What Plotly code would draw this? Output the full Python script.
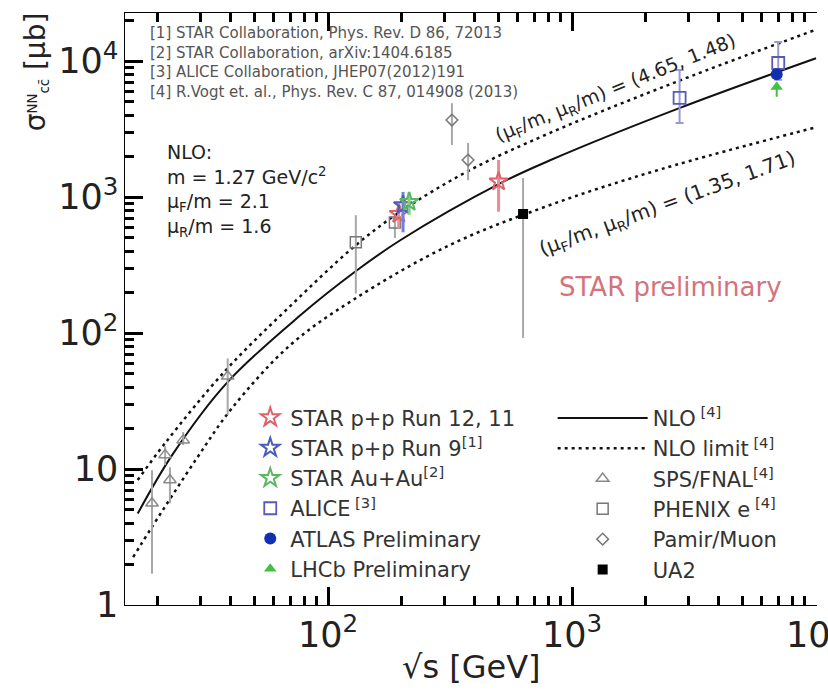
import plotly.graph_objects as go

# ---------------- data ----------------
# NLO central curve
nlo_x = [16.6, 23, 38.5, 77, 129, 197, 507, 813, 2770, 10000]
nlo_y = [4.7, 12.7, 43, 135, 282, 479, 1259, 1862, 4520, 10470]
# NLO limit, upper curve (4.65, 1.48)
up_x = [16.6, 21.5, 38, 68, 129, 197, 375, 813, 2770, 10000]
up_y = [8.3, 15.5, 53, 150, 437, 776, 1550, 2960, 7200, 17000]
# NLO limit, lower curve (1.35, 1.71)
lo_x = [15.9, 19.0, 29.0, 40.4, 70, 126, 316, 813, 2340, 10100]
lo_y = [2.25, 3.75, 12.0, 28, 81.5, 174, 444, 873, 1610, 3270]

star_run12_x = [195, 500]
star_run12_y = [750, 1300]
star_run12_up = [160, 570]
star_run12_dn = [160, 520]

star_run9_x = [203]
star_run9_y = [870]
star_run9_up = [220]
star_run9_dn = [320]

star_auau_x = [215]
star_auau_y = [920]
star_auau_up = [170]
star_auau_dn = [180]

alice_x = [2760, 7000]
alice_y = [5350, 9670]
alice_up = [3250, 4100]
alice_dn = [1850, 2400]

atlas_x = [6900]
atlas_y = [8000]
atlas_up = [700]
atlas_dn = [700]

lhcb_x = [6900]
lhcb_y = [6450]
lhcb_up = [500]
lhcb_dn = [1000]

sps_x = [19.0, 21.5, 22.5, 25.5, 38.8]
sps_y = [5.6, 12.7, 8.3, 16.3, 48]
sps_up = [4.2, 2.0, 2.0, 2.4, 17]
sps_dn = [3.9, 2.0, 2.7, 1.3, 23]

phenix_x = [130, 188]
phenix_y = [465, 650]
phenix_up = [270, 80]
phenix_dn = [270, 150]

pamir_x = [322, 375]
pamir_y = [3680, 1870]
pamir_up = [1220, 630]
pamir_dn = [1270, 540]

ua2_x = [630]
ua2_y = [750]
ua2_up = [630]
ua2_dn = [658]

refs = ["[1] STAR Collaboration, Phys. Rev. D 86, 72013",
        "[2] STAR Collaboration, arXiv:1404.6185",
        "[3] ALICE Collaboration, JHEP07(2012)191",
        "[4] R.Vogt et. al., Phys. Rev. C 87, 014908 (2013)"]

FONT = "DejaVu Sans"
GRAY = "#8a8a8a"
EGRAY = "#a8a8a8"

fig = go.Figure()


def err(up, dn, color, width=0, thick=2):
    return dict(type="data", symmetric=False, array=up, arrayminus=dn,
                color=color, thickness=thick, width=width)


# ---- curves (right legend) ----
fig.add_trace(go.Scatter(x=nlo_x, y=nlo_y, mode="lines", name="NLO<sup> [4]</sup>",
                         line=dict(color="#111111", width=2, shape="spline"),
                         legend="legend2"))
fig.add_trace(go.Scatter(x=up_x, y=up_y, mode="lines", name="NLO limit<sup> [4]</sup>",
                         line=dict(color="#111111", width=2.5, dash="3px,4px", shape="spline"),
                         legend="legend2", legendgroup="lim"))
fig.add_trace(go.Scatter(x=lo_x, y=lo_y, mode="lines", name="NLO limit",
                         line=dict(color="#111111", width=2.5, dash="3px,4px", shape="spline"),
                         legend="legend2", legendgroup="lim", showlegend=False))

# ---- gray reference data (right legend) ----
fig.add_trace(go.Scatter(x=sps_x, y=sps_y, mode="markers", name="SPS/FNAL<sup>[4]</sup>",
                         marker=dict(symbol="triangle-up-open", size=11, color=GRAY,
                                     line=dict(width=1.5, color=GRAY)),
                         error_y=err(sps_up, sps_dn, EGRAY), legend="legend2"))
fig.add_trace(go.Scatter(x=phenix_x, y=phenix_y, mode="markers", name="PHENIX e<sup> [4]</sup>",
                         marker=dict(symbol="square-open", size=11, color="#777777",
                                     line=dict(width=1.5, color="#777777")),
                         error_y=err(phenix_up, phenix_dn, EGRAY), legend="legend2"))
fig.add_trace(go.Scatter(x=pamir_x, y=pamir_y, mode="markers", name="Pamir/Muon",
                         marker=dict(symbol="diamond-open", size=9, color="#777777",
                                     line=dict(width=1.5, color="#777777")),
                         error_y=err(pamir_up, pamir_dn, EGRAY), legend="legend2"))
fig.add_trace(go.Scatter(x=ua2_x, y=ua2_y, mode="markers", name="UA2",
                         marker=dict(symbol="square", size=10, color="#000000"),
                         error_y=err(ua2_up, ua2_dn, EGRAY), legend="legend2"))

# ---- colored data (left legend) ----
fig.add_trace(go.Scatter(x=star_run12_x, y=star_run12_y, mode="markers", name="STAR p+p Run 12, 11",
                         marker=dict(symbol="star-open", size=14, color="#e0606a",
                                     line=dict(width=2, color="#e0606a")),
                         error_y=err(star_run12_up, star_run12_dn, "#f08a92", thick=3)))
fig.add_trace(go.Scatter(x=star_run9_x, y=star_run9_y, mode="markers", name="STAR p+p Run 9<sup>[1]</sup>",
                         marker=dict(symbol="star-open", size=14, color="#4a5cc0",
                                     line=dict(width=2, color="#4a5cc0")),
                         error_y=err(star_run9_up, star_run9_dn, "#7080d8", thick=3)))
fig.add_trace(go.Scatter(x=star_auau_x, y=star_auau_y, mode="markers", name="STAR Au+Au<sup>[2]</sup>",
                         marker=dict(symbol="star-open", size=14, color="#5cb860",
                                     line=dict(width=2, color="#5cb860")),
                         error_y=err(star_auau_up, star_auau_dn, "#80d080", thick=3)))
fig.add_trace(go.Scatter(x=alice_x, y=alice_y, mode="markers", name="ALICE<sup> [3]</sup>",
                         marker=dict(symbol="square-open", size=12, color="#5a5ab4",
                                     line=dict(width=1.8, color="#5a5ab4")),
                         error_y=err(alice_up, alice_dn, "#9a9ad0", width=4)))
fig.add_trace(go.Scatter(x=atlas_x, y=atlas_y, mode="markers", name="ATLAS Preliminary",
                         marker=dict(symbol="circle", size=12, color="#1030b0"),
                         error_y=err(atlas_up, atlas_dn, "#1030b0")))
fig.add_trace(go.Scatter(x=lhcb_x, y=lhcb_y, mode="markers", name="LHCb Preliminary",
                         marker=dict(symbol="triangle-up", size=11, color="#44c044"),
                         error_y=err(lhcb_up, lhcb_dn, "#44c044")))

# x: mirrored ticks; y: ticks without mirror (same style as a configuration seen to work)
fig.update_xaxes(type="log", range=[1.168, 4.004], showline=True, linecolor="black",
                 mirror="ticks", ticks="inside", ticklen=18, tickcolor="black", tickwidth=3,
                 dtick=1, exponentformat="power", ticklabeloverflow="allow",
                 minor=dict(ticks="inside", ticklen=9, tickcolor="black", dtick="D1"))
fig.update_yaxes(type="log", range=[0, 4.353], showline=True, linecolor="black",
                 ticks="inside", ticklen=18, tickcolor="black", tickwidth=3,
                 dtick=1, exponentformat="power",
                 minor=dict(ticks="inside", ticklen=9, tickcolor="black", dtick="D1"))

annotations = [
    dict(xref="paper", yref="paper", x=0.033, y=0.985, xanchor="left", yanchor="top",
         text="<br>".join(refs), align="left", showarrow=False,
         font=dict(family=FONT, size=15, color="#555555")),
    dict(xref="paper", yref="paper", x=0.058, y=0.787, xanchor="left", yanchor="top",
         text="NLO:<br>m = 1.27 GeV/c<sup>2</sup><br>μ<sub>F</sub>/m = 2.1<br>μ<sub>R</sub>/m = 1.6",
         align="left", showarrow=False, font=dict(family=FONT, size=19, color="#222222")),
    dict(xref="paper", yref="paper", x=0.788, y=0.537, xanchor="center", yanchor="middle",
         text="STAR preliminary", showarrow=False,
         font=dict(family=FONT, size=26, color="#d4737b")),
    dict(xref="x", yref="y", x=3.18, y=3.80, textangle=-22, showarrow=False,
         text="(μ<sub>F</sub>/m, μ<sub>R</sub>/m) = (4.65, 1.48)",
         font=dict(family=FONT, size=19, color="#222222")),
    dict(xref="x", yref="y", x=3.39, y=2.95, textangle=-20, showarrow=False,
         text="(μ<sub>F</sub>/m, μ<sub>R</sub>/m) = (1.35, 1.71)",
         font=dict(family=FONT, size=20, color="#222222")),
    dict(xref="paper", yref="paper", x=-0.130, y=0.90, textangle=-90, showarrow=False,
         xanchor="center", yanchor="middle",
         text="σ<span style='font-size:19px'><sup>NN</sup><sub>cc̄</sub></span> [μb]",
         font=dict(family=FONT, size=28, color="#222222")),
    dict(xref="paper", yref="paper", x=0.5, y=-0.105, showarrow=False,
         xanchor="center", yanchor="middle", text="√s [GeV]",
         font=dict(family=FONT, size=32, color="#222222")),
]

fig.update_layout(
    width=828, height=693,
    margin=dict(l=125, r=11, t=13, b=88, autoexpand=False),
    paper_bgcolor="white", plot_bgcolor="white",
    font=dict(family=FONT, size=28, color="#222222"),
    showlegend=True,
    annotations=annotations,
    legend=dict(x=0.181, y=0.351, xanchor="left", yanchor="top",
                bgcolor="rgba(0,0,0,0)", font=dict(family=FONT, size=21, color="#333333"),
                itemwidth=30, traceorder="normal"),
    legend2=dict(x=0.618, y=0.350, xanchor="left", yanchor="top",
                 bgcolor="rgba(0,0,0,0)", font=dict(family=FONT, size=21, color="#333333"),
                 itemwidth=90, traceorder="normal"),
)

fig.write_html("out.html")
